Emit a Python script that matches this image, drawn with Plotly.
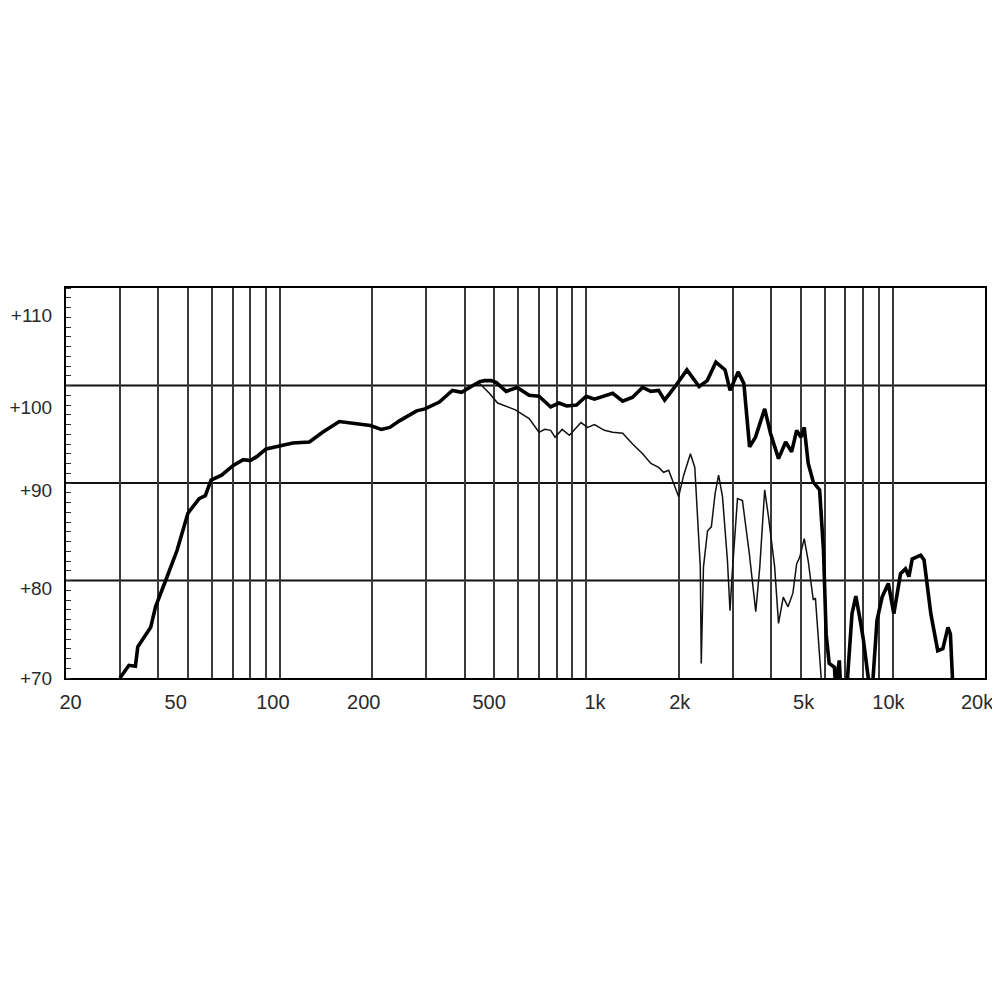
import math
import plotly.graph_objects as go

# ---------------- data ----------------
# on-axis response (thick line)
freq_on = [30, 32.1, 33.7, 34.3, 37.8, 39.2, 42.3, 46.1, 50, 54.4, 57.0, 59.5, 64.4, 70.3,
           75.8, 79.8, 83.9, 90, 99.5, 110, 124.6, 137.6, 156, 181, 197, 214, 228, 246,
           279, 297, 331, 365, 391, 426, 448, 465, 489, 508, 547, 594, 650, 700, 764,
           813, 862, 928, 998, 1062, 1218, 1313, 1415, 1525, 1623, 1720, 1800, 1948,
           2128, 2332, 2480, 2646, 2835, 2943, 3127, 3265, 3408, 3563, 3818, 3988, 4236,
           4470, 4675, 4855, 5016, 5140, 5296, 5500, 5770, 5940, 6060, 6200, 6450, 6510,
           6690, 6760, 7080, 7360, 7575, 7830, 8020, 8230, 8400, 8580, 8880, 9230, 9670,
           10080, 10600, 11000, 11290, 11570, 12330, 12650, 13310, 14020, 14570, 15140,
           15420, 15660, 15900]
db_on = [70.0, 71.3, 71.2, 73.2, 75.2, 77.3, 80.0, 83.1, 86.9, 88.4, 88.7, 90.3, 90.8, 91.8,
         92.4, 92.3, 92.7, 93.5, 93.8, 94.1, 94.2, 95.2, 96.3, 96.0, 95.9, 95.5, 95.7, 96.4,
         97.4, 97.6, 98.3, 99.5, 99.3, 100.0, 100.4, 100.5, 100.5, 100.3, 99.4, 99.8, 99.0,
         98.9, 97.8, 98.2, 97.9, 98.0, 98.9, 98.6, 99.2, 98.4, 98.8, 99.8, 99.4, 99.5, 98.5,
         99.9, 101.6, 99.9, 100.5, 102.4, 101.6, 99.5, 101.4, 100.2, 93.7, 94.7, 97.6, 95.1,
         92.5, 94.2, 93.2, 95.4, 94.7, 95.7, 92.0, 90.1, 89.3, 83.1, 74.5, 71.5, 71.1, 69.0,
         71.8, 69.0, 69.0, 76.6, 78.4, 75.9, 73.9, 71.1, 69.0, 69.0, 75.9, 78.3, 79.7,
         76.6, 80.7, 81.2, 80.4, 82.2, 82.6, 82.1, 76.6, 72.8, 73.0, 75.2,
         74.5, 70.0, 67.0]

# off-axis response (thin line)
freq_off = [426, 448, 482, 513, 586, 650, 700, 731, 764, 790, 833, 880, 960, 1008, 1062,
            1144, 1218, 1313, 1415, 1525, 1623, 1720, 1786, 1855, 2000, 2077, 2185, 2258,
            2353, 2370, 2410, 2485, 2557, 2630, 2700, 2780, 2885, 2942, 2990, 3112, 3230,
            3400, 3570, 3680, 3818, 3930, 4115, 4236, 4390, 4550, 4720, 4855, 4970, 5140,
            5296, 5500, 5590, 5710, 5830, 5900]
db_off = [100.0, 100.2, 99.2, 98.2, 97.5, 96.6, 95.2, 95.5, 95.4, 94.7, 95.5, 94.9, 96.2,
          95.7, 96.0, 95.4, 95.2, 95.1, 94.0, 93.0, 92.0, 91.6, 91.1, 91.3, 88.6, 90.8,
          93.0, 91.6, 81.4, 71.5, 81.4, 85.1, 85.5, 88.9, 90.8, 88.6, 82.1, 76.9, 80.7,
          88.4, 88.2, 82.8, 76.8, 81.4, 89.3, 86.5, 81.4, 75.6, 78.3, 77.3, 78.7, 81.7,
          82.4, 84.3, 82.0, 78.0, 78.2, 74.0, 70.0, 68.0]

# axis labels / grid
x_tick_text = ["20", "50", "100", "200", "500", "1k", "2k", "5k", "10k", "20k"]
x_grid_vals = [30, 40, 50, 60, 70, 80, 90, 100, 200, 300, 400, 500, 600, 700, 800, 900,
               1000, 2000, 3000, 4000, 5000, 6000, 7000, 8000, 9000, 10000]
y_tick_text = ["+70", "+80", "+90", "+100", "+110"]
y_grid_vals = [80, 90, 100]
x_range_hz = [20, 20000]
y_range = [70, 110]

# label placement as printed in the reference (labels sit slightly off their gridlines)
x_label_pos = [20.7, 45.6, 94.7, 187.5, 481, 1066, 2017, 5114, 9678, 18835]
y_label_pos = [70, 79.2, 89.25, 97.8, 107.2]

# ---------------- figure ----------------
fig = go.Figure()
fig.add_trace(go.Scatter(x=freq_off, y=db_off, mode="lines",
                         line=dict(color="#111111", width=1.5), showlegend=False))
fig.add_trace(go.Scatter(x=freq_on, y=db_on, mode="lines",
                         line=dict(color="#000000", width=3.6), showlegend=False))

for v in y_grid_vals:
    fig.add_shape(type="line", xref="paper", x0=0, x1=1, yref="y", y0=v, y1=v,
                  line=dict(color="#111111", width=2), layer="below")

xfont = dict(family="Arial, Liberation Sans, sans-serif", size=20, color="#2a2a2a")
yfont = dict(family="Arial, Liberation Sans, sans-serif", size=19, color="#2a2a2a")

fig.update_layout(
    width=1000, height=1000,
    margin=dict(l=58, r=23, t=280, b=330, autoexpand=False),
    paper_bgcolor="white", plot_bgcolor="white",
    font=xfont,
    xaxis=dict(
        type="log", range=[math.log10(x_range_hz[0]), math.log10(x_range_hz[1])],
        tickmode="array", tickvals=x_label_pos, ticktext=x_tick_text,
        showgrid=False, ticks="", ticklabelstandoff=5, automargin=False,
        ticklabeloverflow="allow",
        minor=dict(tickmode="array", tickvals=x_grid_vals, showgrid=True,
                   gridcolor="#3a3a3a", gridwidth=1.5, ticks=""),
        showline=True, linecolor="black", linewidth=2, mirror=True,
        zeroline=False, tickfont=xfont,
    ),
    yaxis=dict(
        range=y_range,
        tickmode="array", tickvals=y_label_pos, ticktext=y_tick_text,
        showgrid=False, ticks="", ticklabelstandoff=8, automargin=False,
        ticklabeloverflow="allow",
        minor=dict(tickmode="linear", tick0=70, dtick=1, ticks="inside",
                   ticklen=5, tickwidth=1, tickcolor="#333333", showgrid=False),
        showline=True, linecolor="black", linewidth=2, mirror=True,
        zeroline=False, tickfont=yfont,
    ),
)

fig.write_html("out.html")
